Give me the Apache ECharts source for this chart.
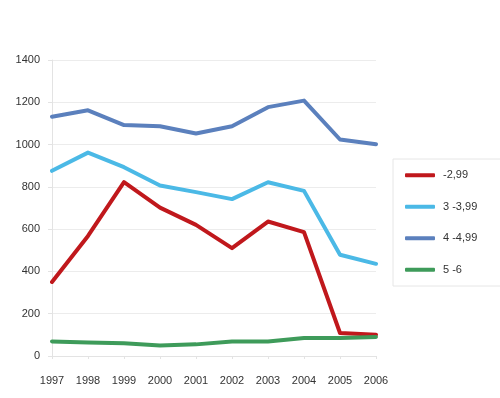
<!DOCTYPE html>
<html>
<head>
<meta charset="utf-8">
<script src="https://cdn.jsdelivr.net/npm/echarts@6/dist/echarts.min.js"></script>
<style>
  html, body { margin: 0; padding: 0; background: #fff; }
  #chart { width: 500px; height: 398px; }
</style>
</head>
<body>
<div id="chart"></div>
<script>
const years = ['1997', '1998', '1999', '2000', '2001', '2002', '2003', '2004', '2005', '2006']

const upTo299 = [350, 568, 822, 702, 620, 510, 636, 586, 109, 101]
const from3 = [876, 962, 893, 806, 775, 742, 822, 781, 479, 436]
const from4 = [1132, 1162, 1092, 1087, 1052, 1087, 1177, 1208, 1024, 1002]
const from5 = [69, 64, 60, 50, 55, 69, 69, 85, 85, 90]

const names = ['-2,99', '3 -3,99', '4 -4,99', '5 -6']
const colors = ['#c0181c', '#4bb9e6', '#5b80bd', '#3e9b5a']

const chart = echarts.init(document.getElementById('chart'), null, { renderer: 'canvas' })

const line = (name, data, color) => ({
  name,
  type: 'line',
  data,
  symbol: 'none',
  smooth: false,
  lineStyle: { width: 4, color, cap: 'round', join: 'round' },
  itemStyle: { color },
})

chart.setOption({
  backgroundColor: '#fff',
  animation: false,
  textStyle: { fontFamily: 'Liberation Sans, Arial, sans-serif' },
  grid: { left: 52, right: 124, top: 60, bottom: 42, containLabel: false },
  legend: {
    orient: 'vertical',
    left: 393,
    top: 159,
    padding: [10, 28, 10, 12],
    itemWidth: 30,
    itemHeight: 4,
    itemGap: 19,
    icon: 'roundRect',
    borderColor: '#e6e6e6',
    borderWidth: 1,
    textStyle: { fontSize: 11, color: '#333', lineHeight: 12.5, padding: [0, 0, 0, 3] },
    data: names,
  },
  xAxis: {
    type: 'category',
    data: years,
    boundaryGap: false,
    axisLine: { lineStyle: { color: '#e3e3e3', width: 1 } },
    axisTick: { show: true, length: 3, lineStyle: { color: '#e3e3e3' } },
    axisLabel: { fontSize: 11, color: '#333', margin: 19 },
    splitLine: { show: false },
  },
  yAxis: {
    type: 'value',
    min: 0,
    max: 1400,
    interval: 200,
    axisLine: { show: true, lineStyle: { color: '#e3e3e3', width: 1 } },
    axisTick: { show: true, length: 4, lineStyle: { color: '#e3e3e3' } },
    axisLabel: { fontSize: 11, color: '#333', margin: 12, formatter: v => String(v) },
    splitLine: { lineStyle: { color: '#ececec', width: 1 } },
  },
  series: [
    line(names[0], upTo299, colors[0]),
    line(names[1], from3, colors[1]),
    line(names[2], from4, colors[2]),
    line(names[3], from5, colors[3]),
  ],
})
</script>
</body>
</html>
